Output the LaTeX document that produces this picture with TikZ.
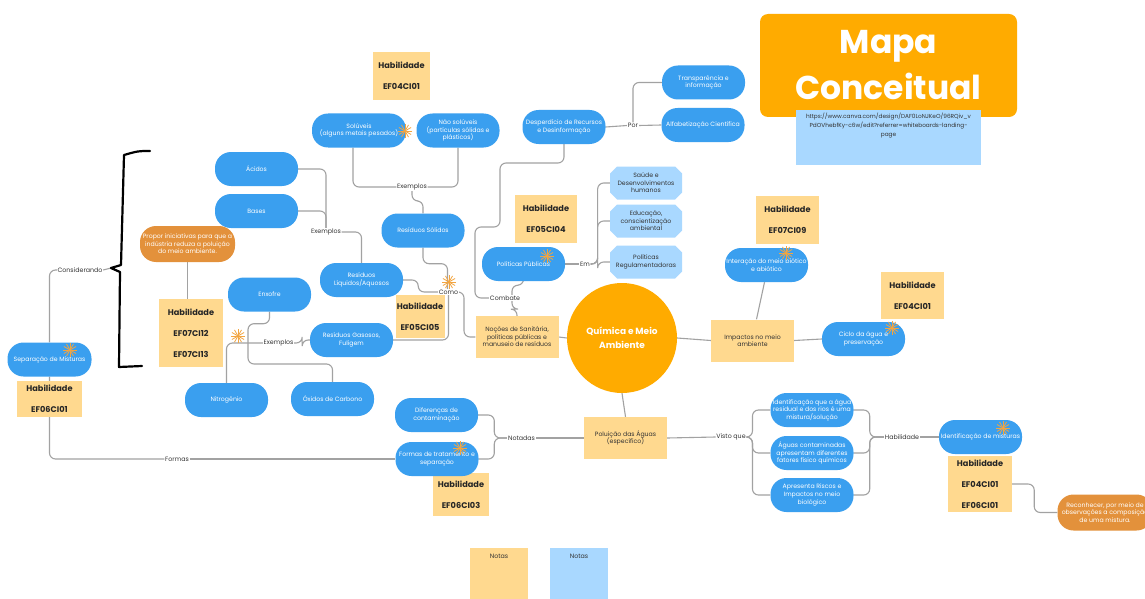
\documentclass[tikz,border=0pt]{standalone}
\usepackage{fontspec}
\setmainfont{Poppins}
\usepackage{tikz}
\usetikzlibrary{shapes.misc,backgrounds}
\definecolor{pillblue}{HTML}{3A9FEF}
\definecolor{paleblue}{HTML}{A9D8FF}
\definecolor{note}{HTML}{FFD98F}
\definecolor{darkorg}{HTML}{E3913B}
\definecolor{gold}{HTML}{FFAB00}
\definecolor{linkgray}{HTML}{A2A2A2}
\definecolor{sparkorg}{HTML}{F2A541}
\tikzset{
  pill/.style={rectangle,rounded corners=16pt,fill=pillblue,text=white,minimum width=83pt,minimum height=34pt,align=center,inner sep=1pt,font=\fontsize{6.2}{7.6}\selectfont},
  opill/.style={pill,fill=darkorg,minimum width=95pt,minimum height=36pt},
  hab/.style={rectangle,fill=note,align=center,inner sep=0pt,text=black!85,font=\fontsize{8.2}{21}\selectfont\bfseries},
  concept/.style={rectangle,fill=note,minimum width=83pt,minimum height=42pt,align=center,inner sep=1pt,text=black!80,font=\fontsize{6.2}{7.6}\selectfont},
  hexa/.style={chamfered rectangle,chamfered rectangle xsep=4pt,chamfered rectangle ysep=3pt,fill=paleblue,minimum width=72pt,minimum height=33pt,align=center,inner sep=1pt,text=black!80,font=\fontsize{6.2}{7.6}\selectfont},
  lbl/.style={fill=white,inner sep=0.6pt,text=black!80,font=\fontsize{6.3}{7}\selectfont},
  link/.style={draw=linkgray,line width=1.1pt,rounded corners=6pt},
  spk/.style={draw=sparkorg,line width=0.8pt},
  brk/.style={draw=black,line width=2.2pt,line join=round,line cap=round}
}
\newcommand{\spark}[1]{\foreach \a in {0,30,...,150} \draw[spk] (#1) ++(\a:7) -- ++(\a+180:14);}

\begin{document}
\begin{tikzpicture}[x=1pt,y=-1pt]
\useasboundingbox (0,0) rectangle (1145,599);
\node[rectangle,rounded corners=8pt,fill=gold,text=white,minimum width=257pt,minimum height=103pt,align=center,font=\fontsize{33}{46}\selectfont\bfseries] (mapa) at (888.5,65.5) {Mapa\\Conceitual};
\node[rectangle,fill=paleblue,inner sep=3pt,text=black!80,font=\fontsize{5.8}{8.8}\selectfont] (url) at (888.5,137.5) {\parbox[t][49pt][t]{179pt}{\centering https://www.canva.com/design/DAF0LoNJKeO/96RQiv\_v\\PdOVhebfKy-c6w/edit?referrer=whiteboards-landing-\\page}};

\node[hab,minimum width=57pt,minimum height=48pt] (habA) at (401.5,76) {Habilidade\\EF04CI01};
\node[hab,minimum width=62pt,minimum height=48pt] (habB) at (546,219) {Habilidade\\EF05CI04};
\node[hab,minimum width=63pt,minimum height=48pt] (habC) at (787.5,220) {Habilidade\\EF07CI09};
\node[hab,minimum width=63pt,minimum height=47pt] (habD) at (912.5,295.5) {Habilidade\\EF04CI01};
\node[hab,minimum width=64pt,minimum height=68pt] (habE) at (191,333) {Habilidade\\EF07CI12\\EF07CI13};
\node[hab,minimum width=49pt,minimum height=43pt] (habF) at (420,316.5) {Habilidade\\EF05CI05};
\node[hab,minimum width=65pt,minimum height=36pt] (habG) at (49.5,399) {Habilidade\\EF06CI01};
\node[hab,minimum width=56pt,minimum height=43pt] (habH) at (461,494.5) {Habilidade\\EF06CI03};
\node[hab,minimum width=64pt,minimum height=56pt] (habI) at (980,484) {Habilidade\\EF04CI01\\EF06CI01};

\node[pill] (acid) at (256.5,169) {Ácidos};
\node[pill] (base) at (256.5,211) {Bases};
\node[pill,minimum width=94pt] (solu) at (359,130.5) {Solúveis\\(alguns metais pesados)};
\node[pill] (nsolu) at (458,130.5) {Não solúveis\\(partículas sólidas e\\plásticos)};
\node[pill] (rsol) at (423,230.5) {Resíduos Sólidos};
\node[pill] (desp) at (564,127) {Desperdício de Recursos\\e Desinformação};
\node[pill] (transp) at (703.5,82.5) {Transparência e\\informação};
\node[pill] (alfab) at (703,125) {Alfabetização Científica};
\node[pill] (polp) at (523.5,264) {Políticas Públicas};
\node[pill] (rliq) at (361.5,280) {Resíduos\\Líquidos/Aquosos};
\node[pill] (enx) at (269.5,294.5) {Enxofre};
\node[pill] (rgas) at (351.5,340) {Resíduos Gasosos,\\Fuligem};
\node[pill] (nitro) at (226.5,400) {Nitrogênio};
\node[pill] (oxid) at (332.5,399) {Óxidos de Carbono};
\node[pill,minimum width=84pt] (sepm) at (49.5,359.5) {Separação de Misturas};
\node[pill] (inter) at (766.5,265) {Interação do meio biótico\\e abiótico};
\node[pill] (ciclo) at (863.5,339) {Ciclo da água e\\preservação};
\node[pill] (difer) at (436.5,415) {Diferenças de\\contaminação};
\node[pill] (formt) at (437,459) {Formas de tratamento e\\separação};
\node[pill] (idagua) at (812,410) {Identificação que a água\\residual e dos rios é uma\\mistura/solução};
\node[pill] (aguasc) at (812,453) {Águas contaminadas\\apresentam diferentes\\fatores físico químicos};
\node[pill] (riscos) at (812,495) {Apresenta Riscos e\\Impactos no meio\\biológico};
\node[pill] (idmist) at (980.5,437) {Identificação de misturas};
\node[opill] (propor) at (187.5,244) {Propor iniciativas para que a\\indústria reduza a poluição\\do meio ambiente.};
\node[opill] (recon) at (1105,512.5) {Reconhecer, por meio de\\observações a composição\\de uma mistura.};

\node[hexa] (saude) at (646,183) {Saúde e\\Desenvolvimentos\\humanos};
\node[hexa] (educ) at (646,221) {Educação,\\conscientização\\ambiental};
\node[hexa] (polreg) at (646,262) {Políticas\\Regulamentadoras};

\node[concept] (nocoes) at (517,337) {Noções de Sanitária,\\políticas públicas e\\manuseio de resíduos};
\node[concept] (impac) at (752.5,340.5) {Impactos no meio\\ambiente};
\node[concept] (polu) at (625.5,438) {Poluição das Águas\\(específico)};
\node[circle,fill=gold,text=white,minimum size=110pt,align=center,font=\fontsize{9}{14}\selectfont\bfseries] (qma) at (622,338) {Química e Meio\\Ambiente};

\node[rectangle,fill=note,inner sep=0pt,text=black!80,font=\fontsize{6.3}{7}\selectfont] (notaA) at (499,576) {\parbox[t][56pt][t]{58pt}{\centering\vspace{6pt}Notas}};
\node[rectangle,fill=paleblue,inner sep=0pt,text=black!80,font=\fontsize{6.3}{7}\selectfont] (notaB) at (579,576) {\parbox[t][56pt][t]{58pt}{\centering\vspace{6pt}Notas}};

\node[lbl] (exA) at (412,187) {Exemplos};
\node[lbl] (exB) at (326,232) {Exemplos};
\node[lbl] (exC) at (278.5,343) {Exemplos};
\node[lbl] (como) at (448.5,292) {Como};
\node[lbl] (comb) at (505,298) {Combate};
\node[lbl] (em) at (585,264) {Em};
\node[lbl] (por) at (633,125.5) {Por};
\node[lbl] (notad) at (521.5,438) {Notadas};
\node[lbl] (visto) at (731,437) {Visto que};
\node[lbl] (habl) at (902,437) {Habilidade};
\node[lbl] (consid) at (80,270) {Considerando};
\node[lbl] (formas) at (177,459) {Formas};
\coordinate (tip) at (111,268);

\draw[brk] (150,151) .. controls (138,151) .. (124,155) -- (121,265) -- (tip) -- (120,272) -- (119,367) -- (142,366);

\begin{pgfonlayer}{background}
\fill[white] (0,0) rectangle (1145,599);
\draw[link] ([xshift=-6pt]solu.south) |- (exA.west);
\draw[link] (nsolu.south) |- (exA.east);
\draw[link] (exA.south) -- ++(0,10) -| (rsol.north);
\draw[link] (acid.east) -| (exB.north);
\draw[link] (base.east) -| (exB.north);
\draw[link] (exB.east) -| (rliq.north);
\draw[link] (rsol.south) -- ++(0,16) -| ([xshift=-1pt]como.north);
\draw[link] (rliq.east) -- ++(15,0) |- (como.west);
\draw[link] (como.east) -- ++(5,0) |- (nocoes.west);
\draw[link] (como.south) |- (rgas.east);
\draw[link] (desp.south) |- (500,163) |- (475,227) |- (comb.west);
\draw[link] (polp.south) -- ++(0,4) -| ([xshift=7pt]comb.north);
\draw[link] ([xshift=7pt]comb.south) -- ++(0,8) -| (nocoes.north);
\draw[link] (polp.east) -- (em.west);
\draw[link] (em.east) -- ++(7,0) |- (saude.west);
\draw[link] (em.east) -- ++(7,0) |- (educ.west);
\draw[link] (em.east) -- ++(7,0) |- (polreg.west);
\draw[link] (desp.east) -- (por.west);
\draw[link] (por.east) -- (alfab.west);
\draw[link] (por.north) |- (transp.west);
\draw[link] (nocoes.east) -- (qma.west);
\draw[link] (qma.east) -- (impac.west);
\draw[link] (qma.south) -- (polu.north);
\draw[link] ([xshift=4pt]impac.north) -- ([xshift=-2pt]inter.south);
\draw[link] (impac.east) -- (ciclo.west);
\draw[link] (polu.west) -- (notad.east);
\draw[link] (notad.west) -- ++(-13,0) |- (difer.east);
\draw[link] (notad.west) -- ++(-13,0) |- (formt.east);
\draw[link] (polu.east) -- (visto.west);
\draw[link] (visto.east) -- ++(6,0) |- (idagua.west);
\draw[link] (visto.east) -- ++(6,0) |- (aguasc.west);
\draw[link] (visto.east) -- ++(6,0) |- (riscos.west);
\draw[link] (idagua.east) -- ++(16,0) |- (habl.west);
\draw[link] (aguasc.east) -- ++(16,0) |- (habl.west);
\draw[link] (riscos.east) -- ++(16,0) |- (habl.west);
\draw[link] (habl.east) -- (idmist.west);
\draw[link] (habI.east) -- ++(22,0) |- (recon.west);
\draw[link] (sepm.north) |- (consid.west);
\draw[link] (consid.east) -- (tip);
\draw[link] (sepm.south) |- (formas.west);
\draw[link] (formas.east) -- (formt.west);
\draw[link] (propor.south) -- (propor.south |- habE.north);
\draw[link] (enx.south) -- ++(0,12) -| (248,364) -| (oxid.north);
\draw[link] (exC.west) -| (nitro.north);
\draw[link] (exC.east) -- ++(8,0) |- (rgas.west);
\end{pgfonlayer}

\spark{405,131}
\spark{547,256}
\spark{449,282}
\spark{238,336}
\spark{70,350}
\spark{786,253}
\spark{892,328}
\spark{460,448}
\spark{1003,428}
\end{tikzpicture}
\end{document}
